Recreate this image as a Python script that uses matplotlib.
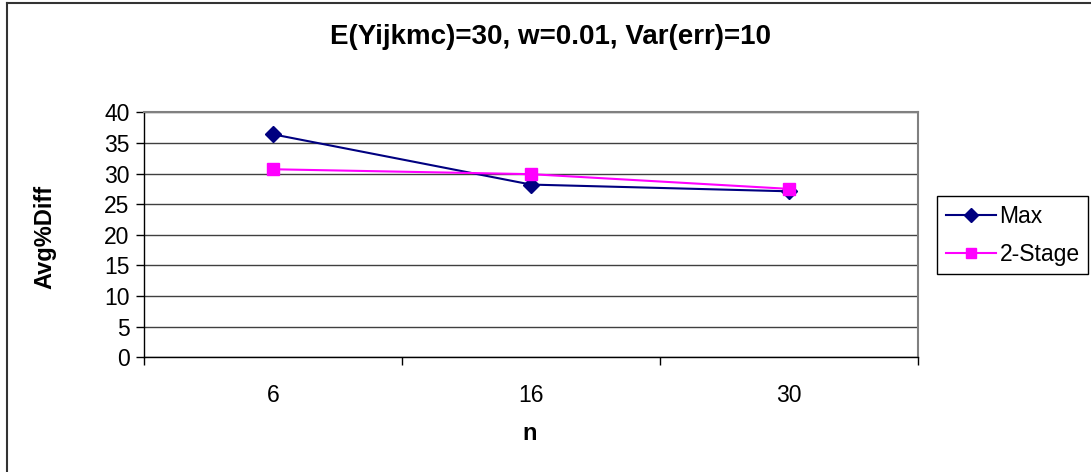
import matplotlib
matplotlib.use("Agg")
import matplotlib.pyplot as plt
from matplotlib.lines import Line2D

plt.rcParams['font.family'] = ['Liberation Sans', 'DejaVu Sans']

categories = ["6", "16", "30"]
max_vals = [36.4, 28.2, 27.1]
two_stage_vals = [30.7, 29.9, 27.5]
y_ticks = [0, 5, 10, 15, 20, 25, 30, 35, 40]

W, H = 1091, 472
fig = plt.figure(figsize=(W / 100, H / 100), dpi=100)

ax = fig.add_axes([144.3 / W, 1 - 357.3 / H, (917.7 - 144.3) / W, (357.3 - 112.3) / H])
x = list(range(len(categories)))

ax.plot(x, max_vals, color='#000080', lw=1.5, marker='D', ms=8, mfc='#000080', mec='#000080', label='Max', zorder=3)
ax.plot(x, two_stage_vals, color='#FF00FF', lw=1.5, marker='s', ms=8, mfc='#FF00FF', mec='#FF00FF', label='2-Stage', zorder=3)

ax.set_xlim(-0.5, len(categories) - 0.5)
ax.set_ylim(0, 40)
ax.set_yticks(y_ticks)
ax.set_yticklabels([str(v) for v in y_ticks], fontsize=16.5)
ax.yaxis.grid(True, color='#404040', lw=1)
ax.set_axisbelow(True)

ax.set_xticks(x)
ax.set_xticklabels(categories, fontsize=16.5)
ax.tick_params(axis='x', which='major', length=0, pad=19)
ax.set_xticks([i - 0.5 for i in range(len(categories) + 1)], minor=True)
ax.tick_params(axis='x', which='minor', length=5.5, width=1, color='black', direction='out')
ax.tick_params(axis='y', length=5.5, width=1, color='black', direction='out', pad=5)

for side in ['top', 'right']:
    ax.spines[side].set_color('#808080')
    ax.spines[side].set_linewidth(1.5)
ax.spines['left'].set_color('black')
ax.spines['bottom'].set_color('black')
ax.spines['left'].set_linewidth(1)
ax.spines['bottom'].set_linewidth(1)

ax.set_xlabel('n', fontsize=17, fontweight='bold')
ax.set_ylabel('Avg%Diff', fontsize=17, fontweight='bold')
ax.xaxis.set_label_coords(0.4987, -0.309)
ax.yaxis.set_label_coords(-0.1284, 0.491)
ax.xaxis.label.set_va('center')
ax.yaxis.label.set_va('center')

fig.text(550 / W, 1 - 37 / H, 'E(Yijkmc)=30, w=0.01, Var(err)=10', ha='center', va='center',
         fontsize=20, fontweight='bold')

leg = fig.legend(loc='upper left', bbox_to_anchor=(937 / W, 1 - 196 / H), fontsize=16.5,
                 frameon=True, fancybox=False, edgecolor='black', framealpha=1,
                 borderpad=0.38, handlelength=2.2, handletextpad=0.15, labelspacing=0.65,
                 borderaxespad=0, markerscale=0.9)
leg.get_frame().set_linewidth(1)

# chart area border (top and left edges visible)
fig.add_artist(Line2D([7 / W, 7 / W], [0, 1 - 3 / H], color='#333333', lw=1.5, transform=fig.transFigure))
fig.add_artist(Line2D([7 / W, 1], [1 - 3 / H, 1 - 3 / H], color='#333333', lw=1.5, transform=fig.transFigure))

fig.savefig('out.png', dpi=100)
